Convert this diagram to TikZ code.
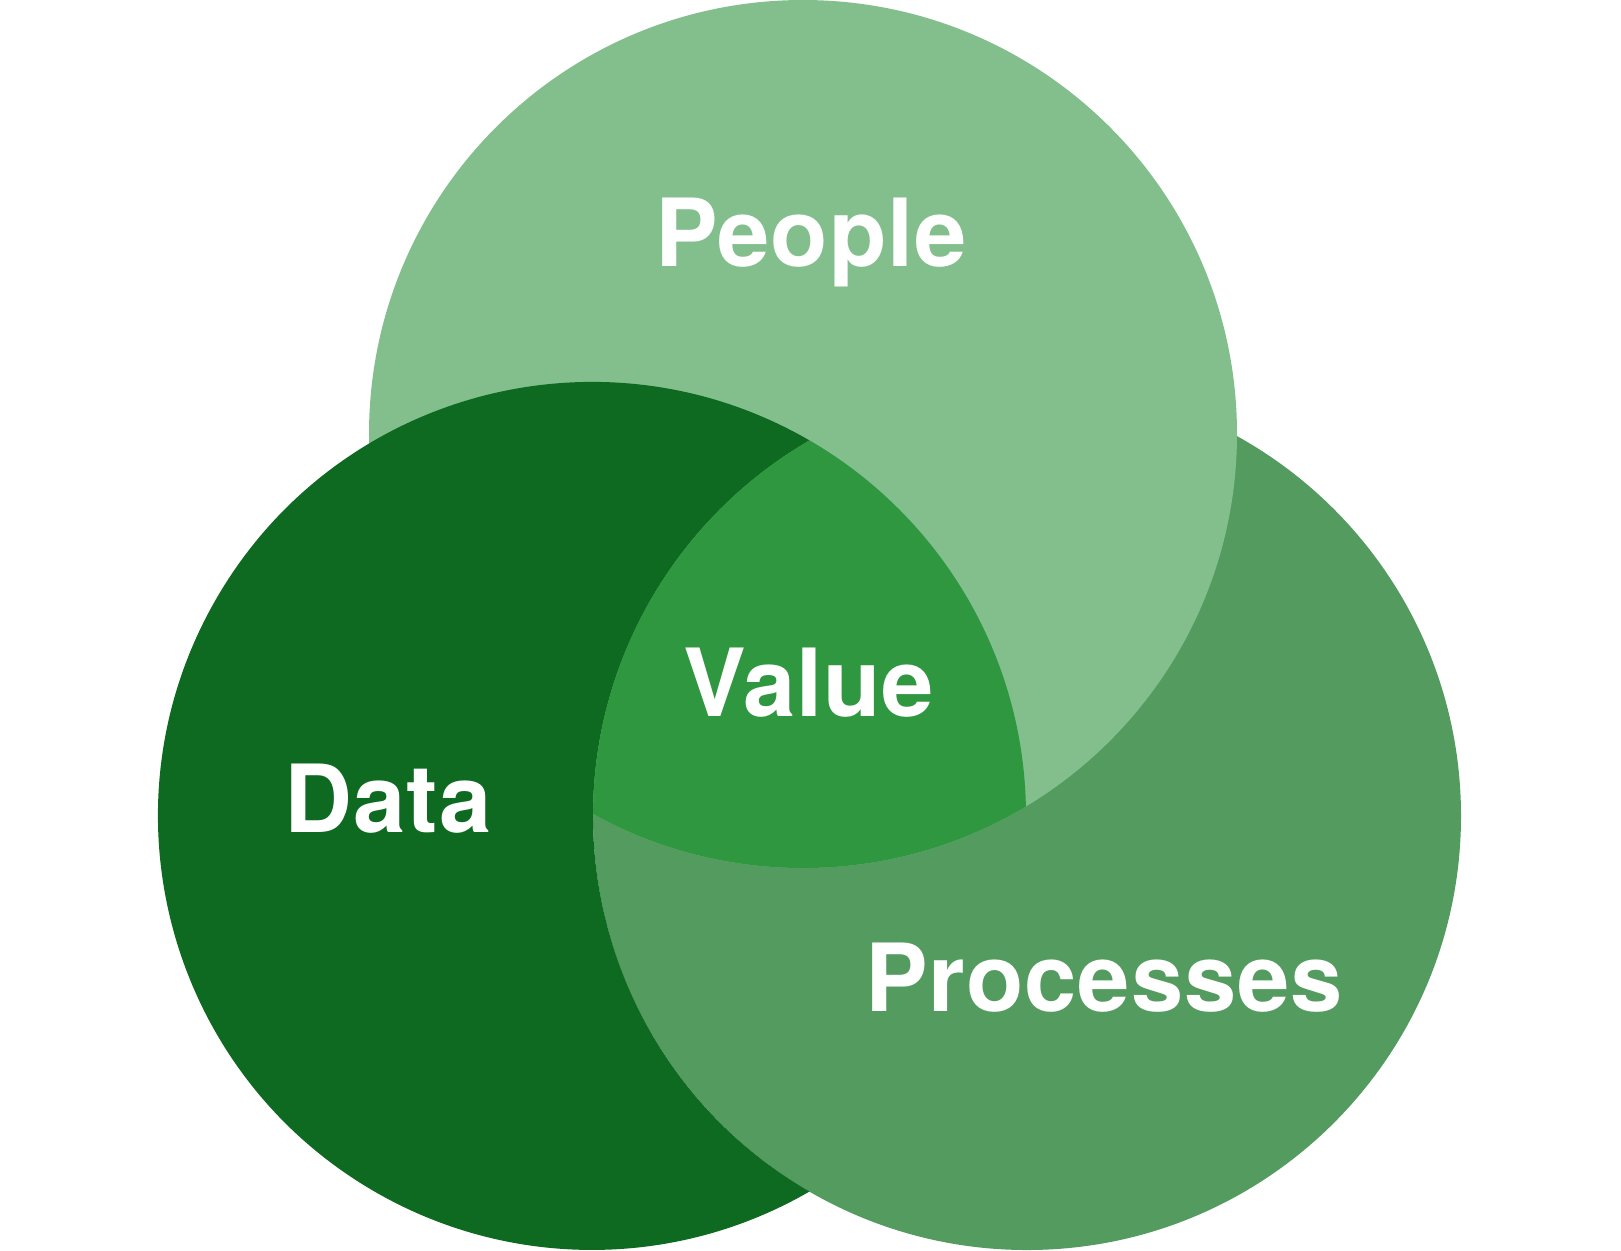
\documentclass[tikz,border=0pt]{standalone}
\usepackage{fontspec}
\setmainfont{TeX Gyre Heros}[LetterSpace=1]
\definecolor{clair}{HTML}{82BF8C}
\definecolor{moyen}{HTML}{549B5F}
\definecolor{fonce}{HTML}{0E6A20}
\definecolor{centre}{HTML}{2F9740}
\tikzset{
  etiquette/.style={text=white, font=\fontsize{47}{50}\selectfont\bfseries}
}
\begin{document}
\begin{tikzpicture}[x=0.5pt,y=-0.5pt]
\useasboundingbox (0,0) rectangle (1621,1250);

% Cercles
\coordinate (people) at (803,434);
\coordinate (data) at (592,816);
\coordinate (processes) at (1027,816);
\coordinate (haut) at (809.5,440.4);

\fill[moyen] (processes) circle[radius=434];
\fill[clair] (people) circle[radius=434];

% Data sans Processes
\fill[fonce] (haut)
  arc[start angle=-59.92, end angle=-300.08, radius=434]
  arc[start angle=120.08, end angle=239.92, radius=434]
  -- cycle;

% Centre
\begin{scope}
\clip (data) circle[radius=434];
\clip (people) circle[radius=434];
\fill[centre] (processes) circle[radius=434];
\end{scope}

% Textes
\node[etiquette] (tpeople) at (811,242) {People};
\node[etiquette] (tvalue) at (809,683) {Value};
\node[etiquette] (tdata) at (388,799) {Data};
\node[etiquette] (tprocesses) at (1104,978) {Processes};

\end{tikzpicture}
\end{document}
